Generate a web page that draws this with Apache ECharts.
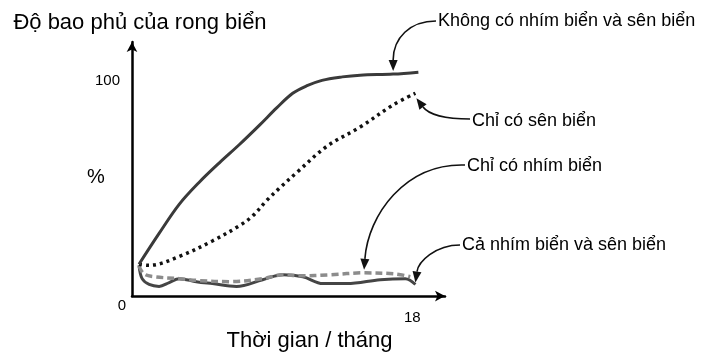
<!DOCTYPE html>
<html>
<head>
<meta charset="utf-8">
<script src="https://cdn.jsdelivr.net/npm/echarts@6/dist/echarts.min.js"></script>
<style>html,body{margin:0;padding:0;background:#fff}#c{width:702px;height:357px}</style>
</head>
<body>
<div id="c"></div>
<script>
// ---- data (months, % cover) ----
const noneX = [0.45, 1.74, 3.03, 4.32, 5.61, 6.9, 8.19, 9.29, 10.32, 11.2, 12.2, 13.5, 14.65, 16.77, 18.39];
const noneY = [14.8, 29.1, 42.6, 52.9, 61.9, 70.4, 79.4, 87.4, 94.2, 97.6, 100.2, 101.8, 102.6, 103.1, 104];

const snailX = [0.45, 1.1, 3.03, 5.16, 6.9, 7.74, 8.65, 9.48, 10.58, 12.5, 14.65, 16.77, 18.2];
const snailY = [14.8, 14.3, 18.4, 25.6, 32.7, 37.2, 44.4, 50.2, 57.4, 69.5, 78.5, 88.8, 94.2];

const urchinX = [0.45, 0.77, 1.42, 3.03, 4.32, 6.26, 8.39, 9.68, 10.77, 12.71, 14.84, 16.9, 17.87];
const urchinY = [13.9, 10.3, 9.0, 8.1, 7.2, 6.7, 8.1, 9.9, 9.4, 9.9, 10.8, 10.3, 9.0];

const bothX = [0.45, 0.65, 1.1, 1.74, 2.39, 3.03, 4.13, 5.16, 6.71, 8.39, 9.68, 10.97, 12.26, 13.8, 15.94, 17.55, 18.2];
const bothY = [14.3, 8.1, 5.4, 4.5, 6.3, 8.1, 6.7, 5.8, 4.5, 7.6, 9.9, 9.0, 5.8, 5.8, 7.6, 8.1, 5.4];

const seriesNames = ['Không có nhím biển và sên biển', 'Chỉ có sên biển', 'Chỉ có nhím biển', 'Cả nhím biển và sên biển'];
const yTickLabels = [0, 100];
const xTickLabels = [18];
const titleText = 'Độ bao phủ của rong biển';
const xName = 'Thời gian / tháng';
const unitText = '%';

const FONT = 'Liberation Sans, Arial, Helvetica, sans-serif';
const INK = '#000';
const zip = (xs, ys) => xs.map((x, i) => [x, ys[i]]);

const chart = echarts.init(document.getElementById('c'), null, {renderer: 'canvas'});
chart.setOption({
  animation: false,
  backgroundColor: '#fff',
  grid: {left: 132, top: 42, right: 257, bottom: 52, containLabel: false},
  xAxis: {
    type: 'value', min: 0, max: 20.1, interval: 18,
    splitLine: {show: false}, axisTick: {show: false},
    axisLine: {lineStyle: {color: '#000', width: 2.5}, symbol: ['none', 'arrow'], symbolSize: [8, 10]},
    axisLabel: {
      margin: 14, color: INK, fontSize: 15, fontFamily: FONT,
      formatter: v => xTickLabels.includes(v) ? String(v) : ''
    },
    name: xName, nameLocation: 'middle', nameGap: 26,
    nameTextStyle: {fontSize: 22, color: INK, fontFamily: FONT, padding: [0, 0, 0, 42]}
  },
  yAxis: {
    type: 'value', min: 0, max: 118, interval: 100,
    splitLine: {show: false}, axisTick: {show: false},
    axisLine: {lineStyle: {color: '#000', width: 2.5}, symbol: ['none', 'arrow'], symbolSize: [8, 10]},
    axisLabel: {
      margin: 6, color: INK, fontSize: 15, fontFamily: FONT,
      formatter: v => {
        if (!yTickLabels.includes(v)) return '';
        return v === 0 ? '{z|' + v + '}' : '{h|' + v + '}';
      },
      rich: {
        z: {fontSize: 15, fontFamily: FONT, color: INK, padding: [20, 0, 0, 0]},
        h: {fontSize: 15, fontFamily: FONT, color: INK, padding: [0, 6, 0, 0]}
      }
    },
    name: titleText, nameLocation: 'end', nameGap: 8,
    nameTextStyle: {fontSize: 22, color: INK, fontFamily: FONT, padding: [0, 0, 0, 16]}
  },
  series: [
    {name: seriesNames[3], type: 'line', data: zip(bothX, bothY), smooth: 0.35, showSymbol: false, z: 2,
      lineStyle: {color: '#454545', width: 3}},
    {name: seriesNames[2], type: 'line', data: zip(urchinX, urchinY), smooth: 0.35, showSymbol: false, z: 3,
      lineStyle: {color: '#8c8c8c', width: 3.5, type: [7, 4]}},
    {name: seriesNames[1], type: 'line', data: zip(snailX, snailY), smooth: 0.35, showSymbol: false, z: 4,
      lineStyle: {color: '#111', width: 3.5, type: [3, 4], cap: 'butt'}},
    {name: seriesNames[0], type: 'line', data: zip(noneX, noneY), smooth: 0.35, showSymbol: false, z: 5,
      lineStyle: {color: '#3a3a3a', width: 3}}
  ]
});

// ---- annotations: leader curves with arrowheads pointing at data points ----
function px(x, y) { return chart.convertToPixel({gridIndex: 0}, [x, y]); }
function leader(start, cp1, cp2, tip) {
  const dx = tip[0] - cp2[0], dy = tip[1] - cp2[1];
  const len = Math.hypot(dx, dy) || 1;
  const ux = dx / len, uy = dy / len;
  const L = 11, W = 4.5;
  const bx = tip[0] - ux * L, by = tip[1] - uy * L;
  return [
    {type: 'bezierCurve', silent: true, z: 10,
      shape: {x1: start[0], y1: start[1], cpx1: cp1[0], cpy1: cp1[1], cpx2: cp2[0], cpy2: cp2[1], x2: bx, y2: by},
      style: {stroke: '#111', lineWidth: 1.6, fill: null}},
    {type: 'polygon', silent: true, z: 10,
      shape: {points: [[tip[0], tip[1]], [bx - uy * W, by + ux * W], [bx + uy * W, by - ux * W]]},
      style: {fill: '#111'}}
  ];
}
function label(text, x, y, size) {
  return {type: 'text', silent: true, z: 10, x: x, y: y,
    style: {text: text, fontSize: size, fontFamily: FONT, fill: INK, align: 'left', verticalAlign: 'middle'}};
}
const t1 = px(noneX[13], noneY[13]);   t1[1] -= 3;
const t2 = px(snailX[12], snailY[12]); t2[0] += 1; t2[1] += 5;
const t3 = px(urchinX[10], urchinY[10]); t3[0] += 1; t3[1] -= 3;
const t4 = px(bothX[16], bothY[16]);   t4[1] -= 2;

const g = [].concat(
  leader([436, 21], [410, 21], [t1[0], 38], t1),
  leader([470, 119], [445, 119], [t2[0] + 12, t2[1] + 16], t2),
  leader([465, 165], [405, 163], [t3[0] + 4, 215], t3),
  leader([460, 245], [435, 245], [t4[0] + 3, 262], t4),
  [
    label(seriesNames[0], 438, 21, 18),
    label(seriesNames[1], 472, 121, 18),
    label(seriesNames[2], 467, 166, 18),
    label(seriesNames[3], 462, 245, 18),
    label(unitText, 87, 177, 20)
  ]
);
chart.setOption({graphic: g});
</script>
</body>
</html>
